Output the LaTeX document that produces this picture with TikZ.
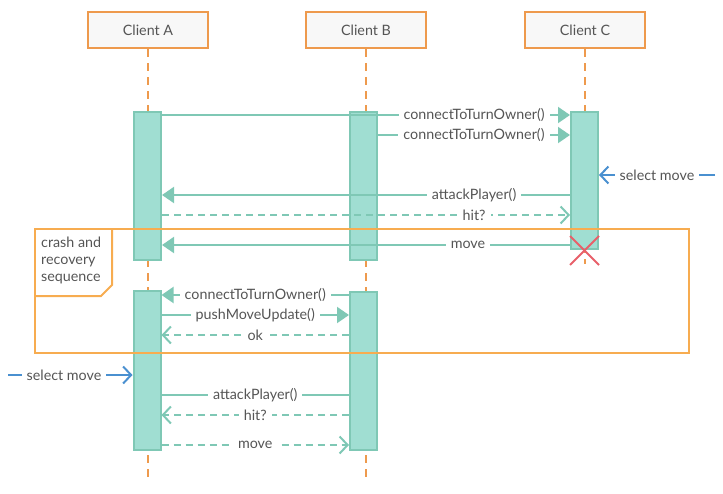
\documentclass[tikz,border=0pt]{standalone}
\usepackage{fontspec}
\setmainfont{Lato}
\usetikzlibrary{arrows.meta}
\definecolor{headorange}{HTML}{EE9A4D}
\definecolor{frameorange}{HTML}{F7AC50}
\definecolor{actline}{HTML}{7FC8B5}
\definecolor{actfill}{HTML}{A0DED2}
\definecolor{txtgray}{HTML}{555555}
\definecolor{selblue}{HTML}{4A90D0}
\definecolor{crossred}{HTML}{E8606A}
\definecolor{headfill}{HTML}{F8F8F8}
\begin{document}
\begin{tikzpicture}[x=1pt,y=-1pt,
    font=\fontsize{14.3}{17}\selectfont, text=txtgray,
    head/.style={draw=headorange,fill=headfill,line width=2pt,minimum width=120pt,minimum height=36pt},
    life/.style={draw=headorange,line width=2pt,dash pattern=on 8pt off 6pt},
    act/.style={draw=actline,fill=actfill,line width=2pt,minimum width=27pt,anchor=north},
    msg/.style={draw=actline,line width=2pt,-{Triangle[length=12pt,width=16pt]}},
    reply/.style={draw=actline,line width=2pt,dash pattern=on 7pt off 5pt,-{Straight Barb[length=8pt,width=17pt]}},
    plain/.style={draw=actline,line width=2pt},
    sel/.style={draw=selblue,line width=2pt,-{Straight Barb[length=8pt,width=17pt]}},
    lbl/.style={fill=white,inner xsep=5pt,inner ysep=1pt}]
    \useasboundingbox (0,0) rectangle (723,493);

    % heads and lifelines
    \node[head] (clientA) at (148,30) {Client A};
    \node[head] (clientB) at (366,30) {Client B};
    \node[head] (clientC) at (585,30) {Client C};
    \coordinate (endA) at (148,480);
    \coordinate (endB) at (366,480);
    \coordinate (endC) at (585,264);
    \draw[life] (clientA.south) -- (endA);
    \draw[life] (clientB.south) -- (endB);
    \draw[life] (clientC.south) -- (endC);

    % activations
    \node[act,minimum height=148pt] (actA1) at (147.5,111) {};
    \node[act,minimum height=148pt] (actB1) at (363.5,111) {};
    \node[act,minimum height=137pt] (actC) at (584.5,111) {};
    \node[act,minimum height=159pt] (actA2) at (147,290) {};
    \node[act,minimum height=158pt] (actB2) at (363.5,291) {};

    % frame
    \draw[frameorange,line width=2pt] (35,229) rectangle (689,353);
    \draw[frameorange,line width=2pt] (112,229) -- (112,285) -- (101,296) -- (35,296);
    \node[anchor=north west,align=left,inner sep=0pt] (crash) at (41,236.5) {crash and\\recovery\\sequence};

    % first round
    \draw[msg] (actA1.east |- 0,115) -- (actC.west |- 0,115) node[lbl,pos=0.765]{connectToTurnOwner()};
    \draw[msg] (actB1.east |- 0,135) -- (actC.west |- 0,135) node[lbl,midway]{connectToTurnOwner()};
    \coordinate (selC) at (715,175);
    \draw[sel] (selC) -- (actC.east |- 0,175) node[lbl,midway]{select move};
    \draw[msg] (actC.west |- 0,195) -- (actA1.east |- 0,195) node[lbl,pos=0.235]{attackPlayer()};
    \draw[reply] (actA1.east |- 0,215) -- (actC.west |- 0,215) node[lbl,pos=0.765]{hit?};
    \draw[msg] (actC.west |- 0,245) -- (actA1.east |- 0,245) node[lbl,pos=0.25]{move};

    % crash of C
    \draw[crossred,line width=2pt] (570,236) -- (599,265);
    \draw[crossred,line width=2pt] (599,236) -- (570,265);

    % recovery
    \draw[msg] (actB2.west |- 0,295) -- (actA2.east |- 0,295) node[lbl,midway]{connectToTurnOwner()};
    \draw[msg] (actA2.east |- 0,315) -- (actB2.west |- 0,315) node[lbl,midway]{pushMoveUpdate()};
    \draw[reply] (actB2.west |- 0,335) -- (actA2.east |- 0,335) node[lbl,midway]{ok};
    \coordinate (selA) at (8,375);
    \draw[sel] (selA) -- (actA2.west |- 0,375) node[lbl,pos=0.45]{select move};
    \draw[plain] (actB2.west |- 0,395) -- (actA2.east |- 0,395) node[lbl,midway]{attackPlayer()};
    \draw[reply] (actB2.west |- 0,415) -- (actA2.east |- 0,415) node[lbl,midway]{hit?};
    \draw[reply] (actA2.east |- 0,445) -- (actB2.west |- 0,445) node[lbl,midway]{move};
\end{tikzpicture}
\end{document}
